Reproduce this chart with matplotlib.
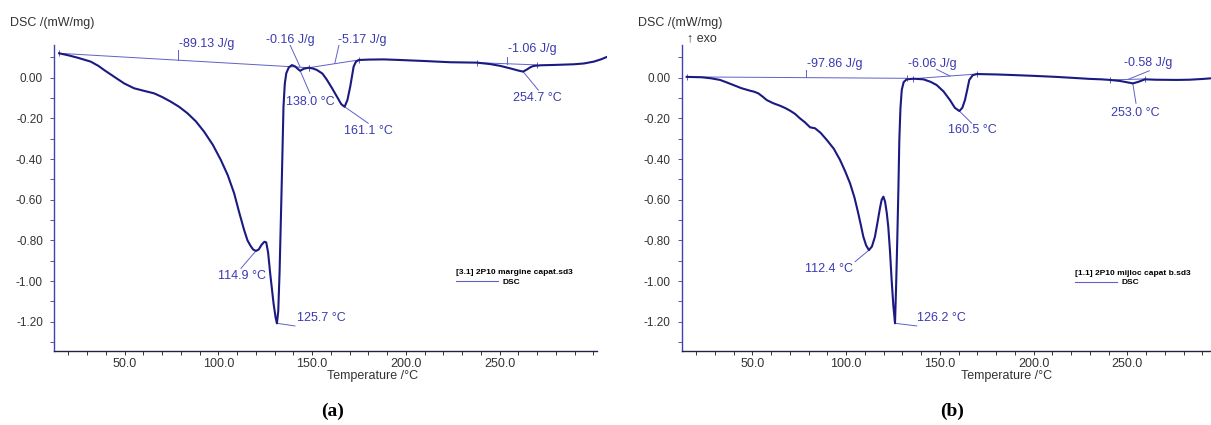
import numpy as np
import matplotlib
matplotlib.use('Agg')
import matplotlib.pyplot as plt
from matplotlib.lines import Line2D
from matplotlib.ticker import MultipleLocator, FormatStrFormatter

plt.rcParams['font.family'] = ['Liberation Sans', 'DejaVu Sans']

# ---- panel (a): 2P10 margine capat ----
temp_a = [15, 20, 25, 31.9, 36, 39, 44, 49.7, 55, 60, 65.7, 70, 74.6, 79, 83.5, 88,
          92.4, 97, 101.3, 105, 108.4, 111, 113.7, 115.5, 117, 118.5, 120, 121.5, 123,
          124.5, 125.5, 126.5, 127.6, 129.4, 130.5, 131.2, 131.9, 132.6, 133.3, 133.9,
          134.7, 135.4, 136.2, 137.5, 139.2, 141, 142.5, 143.6, 145.5, 148.1, 150.5,
          152.5, 155.5, 157.9, 160.5, 163.2, 165.5, 167.3, 168.8, 170.3, 171.3, 172.1,
          173.3, 174.8, 180, 188.1, 197, 210, 223.7, 237.9, 245, 250.4, 256, 260, 262.5,
          264.5, 266.5, 268.2, 271.8, 280, 289.6, 295, 300.2, 304, 307.4]
dsc_a = [0.120, 0.110, 0.098, 0.079, 0.058, 0.038, 0.007, -0.028, -0.052, -0.064, -0.077,
         -0.095, -0.118, -0.143, -0.175, -0.215, -0.266, -0.330, -0.405, -0.480, -0.569,
         -0.660, -0.749, -0.800, -0.825, -0.845, -0.852, -0.845, -0.822, -0.807, -0.810,
         -0.860, -0.962, -1.110, -1.180, -1.208, -1.150, -0.962, -0.700, -0.470, -0.143,
         -0.030, 0.022, 0.050, 0.062, 0.055, 0.042, 0.034, 0.044, 0.049, 0.045, 0.038,
         0.020, -0.011, -0.050, -0.093, -0.130, -0.143, -0.110, -0.044, 0.010, 0.054,
         0.078, 0.087, 0.089, 0.090, 0.087, 0.082, 0.076, 0.074, 0.067, 0.058, 0.045,
         0.035, 0.030, 0.040, 0.052, 0.058, 0.061, 0.063, 0.066, 0.070, 0.079, 0.090, 0.103]
base_a = [([15, 148.1], [0.120, 0.049]), ([148.1, 174.8], [0.049, 0.087]),
          ([237.9, 270.0], [0.074, 0.063])]
labels_a = [('-89.13 J/g', 79.0, 0.166), ('-0.16 J/g', 125.4, 0.185), ('-5.17 J/g', 164.0, 0.185),
            ('-1.06 J/g', 254.2, 0.139), ('138.0 °C', 136.0, -0.118), ('161.1 °C', 167.0, -0.261),
            ('254.7 °C', 256.9, -0.098), ('114.9 °C', 99.8, -0.975), ('125.7 °C', 141.7, -1.183)]
leaders_a = [([78.7, 78.7], [0.086, 0.136]), ([138.2, 143.5], [0.161, 0.054]),
             ([143.6, 148.8], [0.034, -0.077]), ([164.3, 162.1], [0.161, 0.071]),
             ([167.3, 179.9], [-0.143, -0.224]), ([262.5, 270.6], [0.030, -0.061]),
             ([253.7, 253.7], [0.065, 0.104]), ([112.0, 120.1], [-0.938, -0.851]),
             ([131.2, 140.8], [-1.208, -1.221])]
file_a = '[3.1] 2P10 margine capat.sd3'

# ---- panel (b): 2P10 mijloc capat b ----
temp_b = [15, 23, 28, 32.8, 36, 39.9, 44, 48.8, 51, 53.2, 55.5, 57.7, 61, 64.8, 67.5, 70.1,
          72.8, 75.4, 78, 80.8, 83.5, 86.5, 89.7, 93.5, 96.8, 99.5, 102.1, 104.5, 106.5, 108,
          109.2, 110.7, 112.2, 113.8, 115.4, 116.8, 118.1, 119, 119.9, 120.8, 121.7, 122.5,
          123.4, 124.3, 125.2, 126.1, 126.7, 127.3, 127.9, 128.4, 129, 129.7, 130.7, 132.3,
          136, 141.2, 145, 148.3, 152, 155.4, 158, 160.4, 162, 163.4, 164.6, 165.7, 167.5,
          169.7, 180, 189.2, 200, 212, 224.8, 230.1, 236, 240.8, 246, 249.5, 252.9, 256,
          259.4, 265, 276.3, 283, 290.5, 294.6]
dsc_b = [0.004, 0.002, -0.003, -0.011, -0.022, -0.036, -0.051, -0.064, -0.069, -0.077, -0.093,
         -0.110, -0.125, -0.138, -0.149, -0.162, -0.178, -0.200, -0.219, -0.244, -0.249, -0.272,
         -0.306, -0.350, -0.405, -0.460, -0.519, -0.590, -0.667, -0.730, -0.782, -0.825, -0.848,
         -0.830, -0.782, -0.710, -0.640, -0.600, -0.585, -0.610, -0.665, -0.733, -0.850, -0.995,
         -1.120, -1.208, -1.020, -0.798, -0.550, -0.306, -0.150, -0.060, -0.022, -0.008, -0.005,
         -0.008, -0.020, -0.036, -0.068, -0.110, -0.148, -0.164, -0.148, -0.110, -0.060, -0.011,
         0.012, 0.018, 0.016, 0.013, 0.009, 0.004, -0.003, -0.006, -0.008, -0.011, -0.016,
         -0.022, -0.028, -0.020, -0.008, -0.010, -0.011, -0.010, -0.006, -0.003]
base_b = [([15, 132.3], [0.004, -0.003]), ([135.7, 169.7], [-0.005, 0.018]),
          ([240.8, 259.4], [-0.011, -0.006])]
labels_b = [('-97.86 J/g', 79.0, 0.068), ('-6.06 J/g', 133.2, 0.067), ('160.5 °C', 154.5, -0.257),
            ('-0.58 J/g', 248.2, 0.071), ('253.0 °C', 241.2, -0.175), ('112.4 °C', 78.1, -0.943),
            ('126.2 °C', 138.0, -1.183)]
leaders_b = [([78.6, 78.6], [0.003, 0.036]), ([148.3, 155.4], [0.041, 0.008]),
             ([160.4, 167.0], [-0.164, -0.224]), ([261.7, 250.5], [0.034, -0.008]),
             ([252.9, 254.6], [-0.028, -0.126]), ([112.2, 104.8], [-0.848, -0.905]),
             ([126.1, 137.7], [-1.208, -1.221])]
file_b = '[1.1] 2P10 mijloc capat b.sd3'

x_major = [50, 100, 150, 200, 250]

curve_col = '#1a1a82'
ann_col = '#3a3ab0'
thin_col = '#6060c8'
W, H = 1211, 425

fig = plt.figure(figsize=(W / 100, H / 100), dpi=100)


def panel(rect, temp, dsc, base, labels, leaders, fname, xlim, xspan, lab_x, leg_xy):
    ax = fig.add_axes(rect)
    for bx, by in base:
        ax.plot(bx, by, color=thin_col, lw=0.7, marker='|', ms=4, mew=0.7)
    for lx, ly in leaders:
        ax.plot(lx, ly, color=thin_col, lw=0.7)
    ax.plot(temp, dsc, color=curve_col, lw=1.5)
    for t, x, y in labels:
        ax.text(x, y, t, color=ann_col, fontsize=9, ha='left', va='center')
    ax.set_xlim(*xlim)
    ax.set_ylim(-1.3428, 0.1608)
    for s in ['top', 'right']:
        ax.spines[s].set_visible(False)
    ax.spines['left'].set_color('#4040b0')
    ax.spines['bottom'].set_color('#222244')
    ax.spines['left'].set_linewidth(1.0)
    ax.spines['bottom'].set_linewidth(1.0)
    ax.spines['bottom'].set_bounds(*xspan)
    ax.set_xticks(x_major)
    ax.xaxis.set_minor_locator(MultipleLocator(10))
    ax.xaxis.set_major_formatter(FormatStrFormatter('%.1f'))
    ax.yaxis.set_major_locator(MultipleLocator(0.2))
    ax.yaxis.set_minor_locator(MultipleLocator(0.1))
    ax.yaxis.set_major_formatter(FormatStrFormatter('%.2f'))
    ax.tick_params(axis='x', which='both', direction='out', length=3, width=0.7,
                   color='#333333', labelsize=9, labelcolor='#333333', pad=2)
    ax.tick_params(axis='y', which='both', direction='out', length=3, width=0.7,
                   color='#555599', labelsize=8.5, labelcolor='#333333', pad=5)
    ax.set_xlabel('Temperature /°C', fontsize=9, color='#333333', va='center')
    ax.xaxis.set_label_coords(lab_x, -0.082)
    h = Line2D([], [], color=thin_col, lw=0.8)
    leg = ax.legend([h], ['DSC'], title=fname, loc='upper left', bbox_to_anchor=leg_xy,
                    frameon=False, prop={'size': 6, 'weight': 'bold'},
                    title_fontproperties={'size': 6, 'weight': 'bold'},
                    handlelength=5.1, handletextpad=0.5, borderpad=0, borderaxespad=0,
                    labelspacing=0.2)
    leg._legend_box.align = 'left'
    return ax


ax_a = panel([54 / W, 1 - 350.7 / H, 552.7 / W, 305.7 / H], temp_a, dsc_a, base_a, labels_a,
             leaders_a, file_a, (12.3, 307.1), (12.3, 301.7), 0.577, (0.727, 0.267))
ax_b = panel([681.7 / W, 1 - 350.7 / H, 529.3 / W, 305.7 / H], temp_b, dsc_b, base_b, labels_b,
             leaders_b, file_b, (12.35, 294.6), (12.35, 294.6), 0.613, (0.743, 0.264))

fig.text(10 / W, 1 - 22.7 / H, 'DSC /(mW/mg)', fontsize=9, color='#333333', ha='left', va='center')
fig.text(638 / W, 1 - 22.7 / H, 'DSC /(mW/mg)', fontsize=9, color='#333333', ha='left', va='center')
fig.text(687 / W, 1 - 38.3 / H, '↑ exo', fontsize=9, color='#333333', ha='left', va='center')

fig.text(333 / W, 1 - 411 / H, '(a)', fontsize=14, fontweight='bold',
         family=['Liberation Serif', 'DejaVu Serif'], ha='center', va='center')
fig.text(952 / W, 1 - 411 / H, '(b)', fontsize=14, fontweight='bold',
         family=['Liberation Serif', 'DejaVu Serif'], ha='center', va='center')

fig.savefig('out.png', dpi=100)
